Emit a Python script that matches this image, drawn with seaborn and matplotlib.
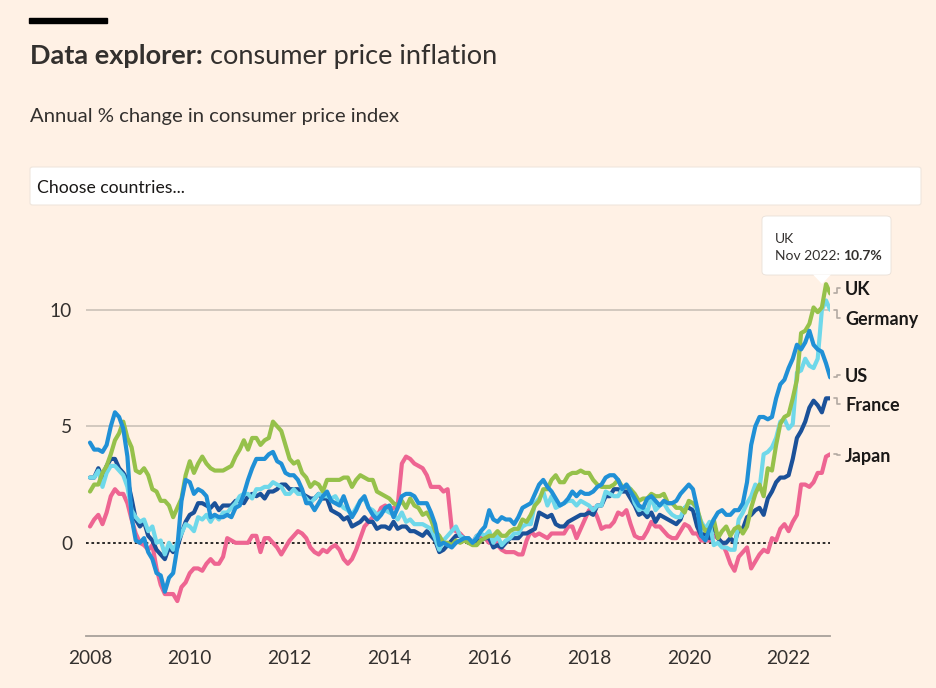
import numpy as np
import pandas as pd
import matplotlib
matplotlib.use('Agg')
import matplotlib.pyplot as plt
import matplotlib.transforms as mtransforms
from matplotlib.patches import FancyBboxPatch, Polygon, Rectangle
import seaborn as sns

# monthly CPI, annual % change, Jan 2008 - Nov 2022
months = pd.date_range('2008-01-01', '2022-11-01', freq='MS')

uk = [2.2, 2.5, 2.5, 3.0, 3.3, 3.8, 4.4, 4.7, 5.2, 4.5, 4.1, 3.1,
      3.0, 3.2, 2.9, 2.3, 2.2, 1.8, 1.8, 1.6, 1.1, 1.5, 1.9, 2.9,
      3.5, 3.0, 3.4, 3.7, 3.4, 3.2, 3.1, 3.1, 3.1, 3.2, 3.3, 3.7,
      4.0, 4.4, 4.0, 4.5, 4.5, 4.2, 4.4, 4.5, 5.2, 5.0, 4.8, 4.2,
      3.6, 3.4, 3.5, 3.0, 2.8, 2.4, 2.6, 2.5, 2.2, 2.7, 2.7, 2.7,
      2.7, 2.8, 2.8, 2.4, 2.7, 2.9, 2.8, 2.7, 2.7, 2.2, 2.1, 2.0,
      1.9, 1.7, 1.6, 1.8, 1.5, 1.9, 1.6, 1.5, 1.2, 1.3, 1.0, 0.5,
      0.3, 0.0, 0.0, -0.1, 0.1, 0.0, 0.1, 0.0, -0.1, -0.1, 0.1, 0.2,
      0.3, 0.3, 0.5, 0.3, 0.3, 0.5, 0.6, 0.6, 1.0, 0.9, 1.2, 1.6,
      1.8, 2.3, 2.3, 2.7, 2.9, 2.6, 2.6, 2.9, 3.0, 3.0, 3.1, 3.0,
      3.0, 2.7, 2.5, 2.4, 2.4, 2.4, 2.5, 2.7, 2.4, 2.4, 2.3, 2.1,
      1.8, 1.9, 1.9, 2.1, 2.0, 2.0, 2.1, 1.7, 1.7, 1.5, 1.5, 1.3,
      1.8, 1.7, 1.5, 0.8, 0.5, 0.6, 1.0, 0.2, 0.5, 0.7, 0.3, 0.6,
      0.7, 0.4, 0.7, 1.5, 2.1, 2.5, 2.0, 3.2, 3.1, 4.2, 5.1, 5.4,
      5.5, 6.2, 7.0, 9.0, 9.1, 9.4, 10.1, 9.9, 10.1, 11.1, 10.7]

germany = [2.8, 2.8, 3.1, 2.4, 3.0, 3.3, 3.3, 3.1, 2.9, 2.4, 1.4, 1.1,
           0.9, 1.0, 0.5, 0.7, 0.0, 0.1, -0.5, 0.0, -0.3, 0.0, 0.4, 0.8,
           0.7, 0.5, 1.1, 1.0, 1.2, 0.9, 1.2, 1.0, 1.3, 1.3, 1.5, 1.7,
           2.0, 2.1, 2.1, 1.9, 2.3, 2.3, 2.4, 2.4, 2.6, 2.5, 2.4, 2.1,
           2.1, 2.3, 2.1, 2.1, 1.9, 1.7, 1.9, 2.1, 2.0, 2.0, 1.9, 2.0,
           1.7, 1.5, 1.4, 1.2, 1.5, 1.8, 1.9, 1.5, 1.4, 1.2, 1.3, 1.4,
           1.3, 1.2, 1.0, 1.3, 0.9, 1.0, 0.8, 0.8, 0.8, 0.7, 0.6, 0.2,
           -0.3, 0.1, 0.3, 0.5, 0.7, 0.3, 0.2, 0.2, 0.0, 0.3, 0.4, 0.3,
           0.5, 0.0, 0.3, -0.1, 0.1, 0.2, 0.4, 0.4, 0.7, 0.8, 0.8, 1.7,
           1.9, 2.2, 1.6, 2.0, 1.5, 1.6, 1.7, 1.8, 1.8, 1.6, 1.8, 1.7,
           1.6, 1.4, 1.6, 1.6, 2.2, 2.1, 2.0, 2.0, 2.3, 2.5, 2.3, 1.7,
           1.4, 1.5, 1.3, 2.0, 1.4, 1.6, 1.7, 1.4, 1.2, 1.1, 1.1, 1.5,
           1.7, 1.7, 1.4, 0.9, 0.6, 0.9, -0.1, 0.0, -0.2, -0.2, -0.3, -0.3,
           1.0, 1.3, 1.7, 2.0, 2.5, 2.3, 3.8, 3.9, 4.1, 4.5, 5.2, 5.3,
           4.9, 5.1, 7.3, 7.4, 7.9, 7.6, 7.5, 7.9, 10.0, 10.4, 10.0]

us = [4.3, 4.0, 4.0, 3.9, 4.2, 5.0, 5.6, 5.4, 4.9, 3.7, 1.1, 0.1,
      0.0, 0.2, -0.4, -0.7, -1.3, -1.4, -2.1, -1.5, -1.3, -0.2, 1.8, 2.7,
      2.6, 2.1, 2.3, 2.2, 2.0, 1.1, 1.2, 1.1, 1.1, 1.2, 1.1, 1.5,
      1.6, 2.1, 2.7, 3.2, 3.6, 3.6, 3.6, 3.8, 3.9, 3.5, 3.4, 3.0,
      2.9, 2.9, 2.7, 2.3, 1.7, 1.7, 1.4, 1.7, 2.0, 2.2, 1.8, 1.7,
      1.6, 2.0, 1.5, 1.1, 1.4, 1.8, 2.0, 1.5, 1.2, 1.0, 1.2, 1.5,
      1.6, 1.1, 1.5, 2.0, 2.1, 2.1, 2.0, 1.7, 1.7, 1.7, 1.3, 0.8,
      -0.1, 0.0, -0.1, -0.2, 0.0, 0.1, 0.2, 0.2, 0.0, 0.2, 0.5, 0.7,
      1.4, 1.0, 0.9, 1.1, 1.0, 1.0, 0.8, 1.1, 1.5, 1.6, 1.7, 2.1,
      2.5, 2.7, 2.4, 2.2, 1.9, 1.6, 1.7, 1.9, 2.2, 2.0, 2.2, 2.1,
      2.1, 2.2, 2.4, 2.5, 2.8, 2.9, 2.9, 2.7, 2.3, 2.5, 2.2, 1.9,
      1.6, 1.5, 1.9, 2.0, 1.8, 1.6, 1.8, 1.7, 1.7, 1.8, 2.1, 2.3,
      2.5, 2.3, 1.5, 0.3, 0.1, 0.6, 1.0, 1.3, 1.4, 1.2, 1.2, 1.4,
      1.4, 1.7, 2.6, 4.2, 5.0, 5.4, 5.4, 5.3, 5.4, 6.2, 6.8, 7.0,
      7.5, 7.9, 8.5, 8.3, 8.6, 9.1, 8.5, 8.3, 8.2, 7.7, 7.1]

france = [2.8, 2.8, 3.2, 2.8, 3.3, 3.6, 3.6, 3.2, 3.0, 2.7, 1.9, 1.0,
          0.7, 0.9, 0.3, 0.1, -0.3, -0.5, -0.7, -0.2, -0.4, -0.2, 0.4, 0.9,
          1.2, 1.3, 1.7, 1.7, 1.6, 1.5, 1.7, 1.4, 1.6, 1.6, 1.6, 1.8,
          1.8, 1.7, 2.0, 2.1, 2.0, 2.1, 1.9, 2.2, 2.2, 2.3, 2.5, 2.5,
          2.3, 2.3, 2.3, 2.1, 2.0, 1.9, 1.9, 2.1, 1.9, 1.9, 1.4, 1.3,
          1.2, 1.0, 1.1, 0.7, 0.8, 0.9, 1.1, 0.9, 0.9, 0.6, 0.7, 0.7,
          0.6, 0.9, 0.6, 0.7, 0.7, 0.5, 0.5, 0.4, 0.3, 0.5, 0.3, 0.1,
          -0.4, -0.3, -0.1, 0.1, 0.3, 0.3, 0.2, 0.0, 0.0, 0.1, 0.1, 0.2,
          0.2, -0.2, -0.1, -0.2, 0.0, 0.2, 0.2, 0.2, 0.4, 0.4, 0.5, 0.6,
          1.3, 1.2, 1.1, 1.2, 0.8, 0.7, 0.7, 0.9, 1.0, 1.1, 1.2, 1.2,
          1.3, 1.2, 1.6, 1.6, 2.0, 2.0, 2.3, 2.3, 2.2, 2.2, 1.9, 1.6,
          1.2, 1.3, 1.1, 1.3, 0.9, 1.2, 1.1, 1.0, 0.9, 0.8, 1.0, 1.5,
          1.5, 1.4, 0.7, 0.3, 0.4, 0.2, 0.8, 0.2, 0.0, 0.0, 0.2, 0.0,
          0.6, 0.6, 1.1, 1.2, 1.4, 1.5, 1.2, 1.9, 2.2, 2.6, 2.8, 2.8,
          2.9, 3.6, 4.5, 4.8, 5.2, 5.8, 6.1, 5.9, 5.6, 6.2, 6.2]

japan = [0.7, 1.0, 1.2, 0.8, 1.3, 2.0, 2.3, 2.1, 2.1, 1.7, 1.0, 0.4,
         0.0, -0.1, -0.3, -0.1, -1.1, -1.8, -2.2, -2.2, -2.2, -2.5, -1.9, -1.7,
         -1.3, -1.1, -1.1, -1.2, -0.9, -0.7, -0.9, -0.9, -0.6, 0.2, 0.1, 0.0,
         0.0, 0.0, 0.0, 0.3, 0.3, -0.4, 0.2, 0.2, 0.0, -0.2, -0.5, -0.2,
         0.1, 0.3, 0.5, 0.4, 0.2, -0.2, -0.4, -0.5, -0.3, -0.4, -0.2, -0.1,
         -0.3, -0.7, -0.9, -0.7, -0.3, 0.2, 0.7, 0.9, 1.1, 1.1, 1.5, 1.6,
         1.4, 1.5, 1.6, 3.4, 3.7, 3.6, 3.4, 3.3, 3.2, 2.9, 2.4, 2.4,
         2.4, 2.2, 2.3, 0.6, 0.5, 0.4, 0.2, 0.2, 0.0, 0.3, 0.3, 0.2,
         0.0, 0.3, -0.1, -0.3, -0.4, -0.4, -0.4, -0.5, -0.5, 0.1, 0.5, 0.3,
         0.4, 0.3, 0.2, 0.4, 0.4, 0.4, 0.4, 0.7, 0.7, 0.2, 0.6, 1.0,
         1.4, 1.5, 1.1, 0.6, 0.7, 0.7, 0.9, 1.3, 1.2, 1.4, 0.8, 0.3,
         0.2, 0.2, 0.5, 0.9, 0.7, 0.7, 0.5, 0.3, 0.2, 0.2, 0.5, 0.8,
         0.7, 0.4, 0.4, 0.1, 0.1, 0.1, 0.3, 0.2, 0.0, -0.4, -0.9, -1.2,
         -0.6, -0.4, -0.2, -1.1, -0.8, -0.5, -0.3, -0.4, 0.2, 0.1, 0.6, 0.8,
         0.5, 0.9, 1.2, 2.5, 2.5, 2.4, 2.6, 3.0, 3.0, 3.7, 3.8]

countries = ['Japan', 'France', 'Germany', 'UK', 'US']
colours = {'UK': '#96c14b', 'Germany': '#6fd8ea', 'US': '#2090d6',
           'France': '#1b5199', 'Japan': '#ee6592'}
label_order = ['UK', 'Germany', 'US', 'France', 'Japan']
label_nudge = {'UK': 0.25, 'Germany': -0.35, 'US': 0.1, 'France': -0.25, 'Japan': -0.05}

year_ticks = list(range(2008, 2023, 2))
value_ticks = [0, 5, 10]

t = months.year + (months.month - 1) / 12
wide = pd.DataFrame({'t': t, 'UK': uk, 'Germany': germany, 'US': us,
                     'France': france, 'Japan': japan})
df = wide.melt(id_vars='t', var_name='country', value_name='cpi')

bg = '#fff1e5'
ink = '#33302e'
sns.set_theme(style='white', rc={'figure.facecolor': bg, 'axes.facecolor': bg})
plt.rcParams['font.family'] = ['Lato', 'DejaVu Sans']

W, H = 936, 688
fig = plt.figure(figsize=(W / 100, H / 100), dpi=100)


def fx(x):
    return x / W


def fy(y):
    return 1 - y / H


ax = fig.add_axes([fx(86), fy(636), fx(830) - fx(86), fy(230) - fy(636)])
ax.set_facecolor(bg)

for v in value_ticks[1:]:
    ax.axhline(v, color='#cfc5bb', lw=1.3, zorder=0)
ax.axhline(0, color='#1a1a1a', lw=1.3, ls=(0, (1.5, 1.5)), zorder=1)

sns.lineplot(data=df, x='t', y='cpi', hue='country', hue_order=countries,
             palette=colours, linewidth=3.0, legend=False, ax=ax, zorder=3)

ax.set_xlim(2008 - 4 / 49.9, 2008 + 740 / 49.9)
ax.set_ylim(-4, (636 - 230) / 23.3 - 4)
ax.set_xticks(year_ticks)
ax.set_xticklabels([str(y) for y in year_ticks])
ax.set_yticks(value_ticks)
ax.set_yticklabels([str(v) for v in value_ticks])
ax.set_xlabel('')
ax.set_ylabel('')
for s in ['top', 'left', 'right']:
    ax.spines[s].set_visible(False)
ax.spines['bottom'].set_color('#a8a19a')
ax.spines['bottom'].set_linewidth(1.3)
ax.tick_params(axis='x', direction='out', length=5, width=1, color='#a8a19a',
               labelsize=13.8, labelcolor=ink, pad=5)
ax.tick_params(axis='y', length=0, labelsize=13.8, labelcolor=ink, pad=10)

# end labels with small elbow connectors
blend = mtransforms.blended_transform_factory(ax.transAxes, ax.transData)
aw = fx(830) * W - 86
for name in label_order:
    end = wide[name].iloc[-1]
    ly = end + label_nudge[name]
    ax.plot([1 + 4 / aw, 1 + 7 / aw, 1 + 7 / aw, 1 + 10 / aw], [end, end, ly, ly],
            transform=blend, color='#b3aaa2', lw=1.2, clip_on=False)
    ax.text(1 + 15 / aw, ly, name, transform=blend, fontsize=13, fontweight='bold',
            color='#1a1817', va='center_baseline', ha='left')

# header
fig.patches.append(Rectangle((fx(29), fy(23)), fx(107) - fx(29), fy(18) - fy(23),
                             transform=fig.transFigure, color='#000000'))
t1 = fig.text(fx(30), fy(64), 'Data explorer:', fontsize=19.5, fontweight='bold',
              color=ink, va='baseline')
fig.canvas.draw()
r = fig.canvas.get_renderer()
x1 = t1.get_window_extent(r).x1
fig.text(x1 / W, fy(64), ' consumer price inflation', fontsize=19.5, color=ink, va='baseline')
fig.text(fx(30), fy(122), 'Annual % change in consumer price index', fontsize=14.6,
         color=ink, va='baseline')

# search box
fig.patches.append(FancyBboxPatch((fx(30), fy(205)), fx(921) - fx(30), fy(167) - fy(205),
                                  boxstyle='round,pad=0,rounding_size=0.003',
                                  transform=fig.transFigure, facecolor='white',
                                  edgecolor='#efe6dd', lw=0.8))
fig.text(fx(37), fy(193), 'Choose countries...', fontsize=12.7, color='#1a1817', va='baseline')

# tooltip
fig.patches.append(FancyBboxPatch((fx(762), fy(275)), fx(891) - fx(762), fy(216) - fy(275),
                                  boxstyle='round,pad=0,rounding_size=0.005',
                                  transform=fig.transFigure, facecolor='white',
                                  edgecolor='#e8e0d8', lw=0.6, zorder=5))
fig.patches.append(Polygon([(fx(813), fy(274.5)), (fx(831), fy(274.5)), (fx(822), fy(284))],
                           closed=True, transform=fig.transFigure, facecolor='white',
                           edgecolor='none', zorder=6))
fig.text(fx(775), fy(243), 'UK', fontsize=10, color=ink, va='baseline', zorder=7)
t2 = fig.text(fx(775), fy(260), 'Nov 2022: ', fontsize=10, color=ink, va='baseline', zorder=7)
fig.canvas.draw()
x2 = t2.get_window_extent(r).x1
fig.text(x2 / W, fy(260), '%.1f%%' % uk[-1], fontsize=10, fontweight='bold', color=ink,
         va='baseline', zorder=7)

fig.savefig('out.png', dpi=100, facecolor=bg)
